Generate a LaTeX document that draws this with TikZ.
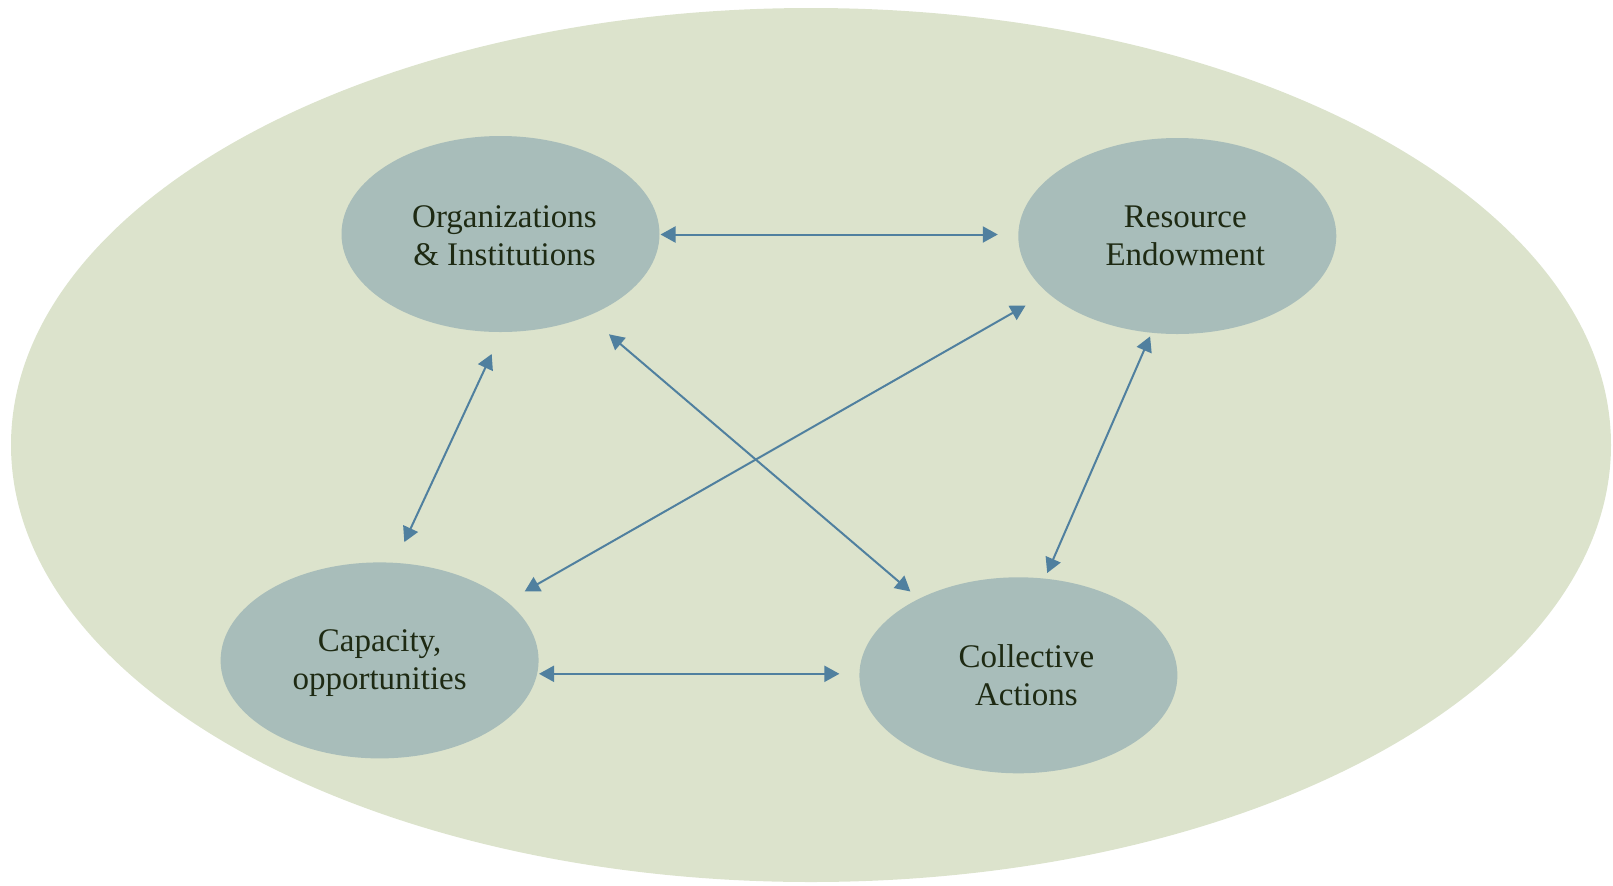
\documentclass[tikz,border=0pt]{standalone}
\usepackage{fontspec}
\setmainfont{Liberation Serif}
\usetikzlibrary{calc}
\usetikzlibrary{arrows.meta}
\usetikzlibrary{shapes.geometric}
\definecolor{fieldgreen}{HTML}{DCE3CC}
\definecolor{nodegrey}{HTML}{A8BDBA}
\definecolor{linkblue}{HTML}{50809F}
\definecolor{textdark}{HTML}{1E2A13}
\def\rxnode{159}
\def\rynode{98}

\begin{document}
\begin{tikzpicture} [x = 0.5 pt, y = -0.5 pt,
    factor/.style = {ellipse, fill = nodegrey, minimum width = {2*\rxnode*0.5pt},
      minimum height = {2*\rynode*0.5pt}, inner sep = 0pt},
    label text/.style = {text = textdark, align = center,
      font = \fontsize{16.5}{19}\selectfont},
    link/.style = {linkblue, line width = 1pt,
      {Triangle[length=7.5pt, width=8pt]}-{Triangle[length=7.5pt, width=8pt]}}]
    \useasboundingbox (0, 0) rectangle (1613, 885);
    \fill[fieldgreen] (811, 445) ellipse [x radius = 400pt, y radius = 218.5pt];

    \node[factor] (org) at (500.5, 234) {};
    \node[factor] (res) at (1177.3, 236) {};
    \node[factor] (cap) at (379.6, 660.4) {};
    \node[factor] (coll) at (1018.4, 675.3) {};

    \node[label text] (orgtext) at ($(org) + (4, 2)$) {Organizations\\\& Institutions};
    \node[label text] (restext) at ($(res) + (8, 0)$) {Resource\\Endowment};
    \node[label text] (captext) at ($(cap) + (0, 3)$) {Capacity,\\opportunities};
    \node[label text] (colltext) at ($(coll) + (8, 0)$) {Collective\\Actions};

    % arrow ends, taken from the node centres
    \coordinate (or-a) at ($(org) + (160, 0.5)$);
    \coordinate (or-b) at ($(res) + (-179.5, -1.5)$);
    \coordinate (oc-a) at ($(org) + (-8.8, 120)$);
    \coordinate (oc-b) at ($(cap) + (24.7, -118.3)$);
    \coordinate (ol-a) at ($(org) + (108.5, 100.3)$);
    \coordinate (ol-b) at ($(coll) + (-108, -83.8)$);
    \coordinate (rc-a) at ($(res) + (-151.7, 69.5)$);
    \coordinate (rc-b) at ($(cap) + (145, -68.9)$);
    \coordinate (rl-a) at ($(res) + (-27.2, 100.4)$);
    \coordinate (rl-b) at ($(coll) + (28.8, -102.3)$);
    \coordinate (cl-a) at ($(cap) + (159.4, 13.4)$);
    \coordinate (cl-b) at ($(coll) + (-179, -1.5)$);

    \draw[link] (or-a) -- (or-b);
    \draw[link] (oc-a) -- (oc-b);
    \draw[link] (ol-a) -- (ol-b);
    \draw[link] (rc-a) -- (rc-b);
    \draw[link] (rl-a) -- (rl-b);
    \draw[link] (cl-a) -- (cl-b);
  \end{tikzpicture}
\end{document}
